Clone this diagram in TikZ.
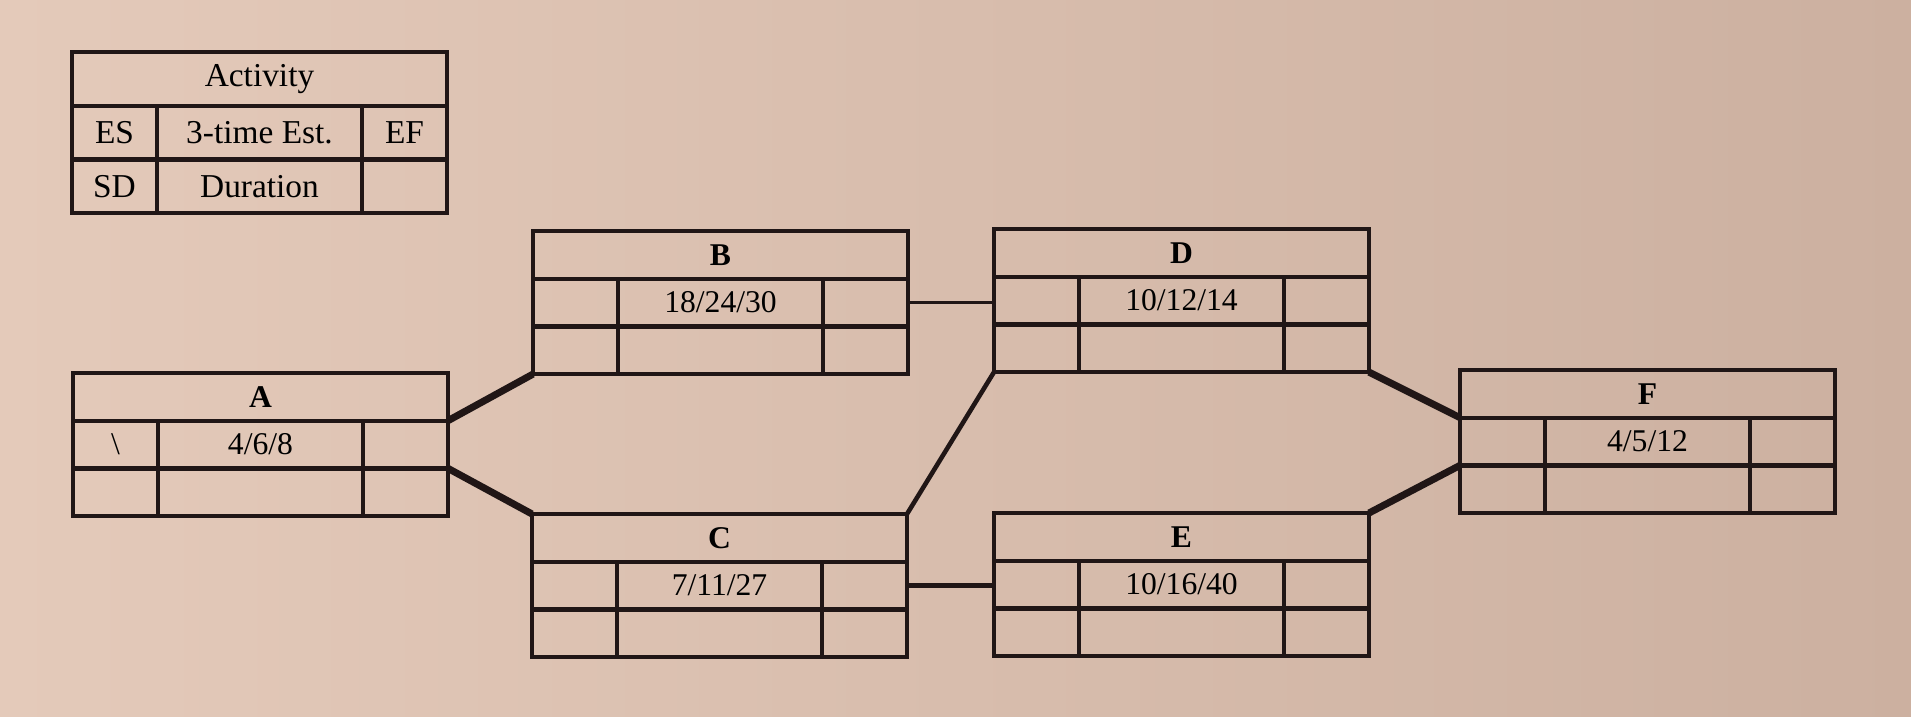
\documentclass[tikz,border=0pt]{standalone}
\usepackage{fontspec}
\setmainfont{Liberation Serif}
\usetikzlibrary{positioning}
\definecolor{ink}{RGB}{32,22,22}
\definecolor{paperl}{RGB}{228,202,186}
\definecolor{paperr}{RGB}{204,176,160}
\tikzset{
    cell/.style={draw=ink, line width=1.2pt, inner sep=0pt, outer sep=0pt, minimum height=4.77mm, font=\fontsize{9}{10}\selectfont}, % one square of a box
    sidecell/.style={cell, minimum width=8.5mm}, % ES, EF, SD columns
    midcell/.style={cell, minimum width=20.5mm}, % estimate and duration column
    headcell/.style={cell, minimum width=37.5mm, font=\fontsize{9}{10}\selectfont\bfseries}, % row with the activity name
    keyrow/.style={minimum height=5.37mm, font=\fontsize{9.5}{11}\selectfont}, % the legend is a bit taller
    heavy/.style={draw=ink, line width=2pt}, % thick connectors
    light/.style={draw=ink, line width=1.1pt}, % thin connectors
}

\begin{document}
\begin{tikzpicture}[x=1mm, y=-1mm]
    \fill[left color=paperl, right color=paperr] (0,0) rectangle (191.1,71.7);
    % legend
    \node[headcell, keyrow, anchor=north west] (key) at (7.2,5.2) {Activity};
    \node[sidecell, keyrow, below right=0pt of key.south west] (key-es) {ES};
    \node[midcell, keyrow, right=0pt of key-es] (key-est) {3-time Est.};
    \node[sidecell, keyrow, right=0pt of key-est] (key-ef) {EF};
    \node[sidecell, keyrow, below=0pt of key-es] (key-sd) {SD};
    \node[midcell, keyrow, right=0pt of key-sd] (key-dur) {Duration};
    \node[sidecell, keyrow, right=0pt of key-dur] (key-x) {};
    % activities
    \foreach \n/\x/\y/\est in {A/7.3/37.3/{4/6/8}, B/53.3/23.1/{18/24/30}, C/53.2/51.4/{7/11/27},
                              D/99.4/22.9/{10/12/14}, E/99.4/51.3/{10/16/40}, F/146/37/{4/5/12}} {
        \node[headcell, anchor=north west] (\n) at (\x,\y) {\n};
        \node[sidecell, below right=0pt of \n.south west] (\n-es) {};
        \node[midcell, right=0pt of \n-es] (\n-est) {\est};
        \node[sidecell, right=0pt of \n-est] (\n-ef) {};
        \node[sidecell, below=0pt of \n-es] (\n-sd) {};
        \node[midcell, right=0pt of \n-sd] (\n-dur) {};
        \node[sidecell, right=0pt of \n-dur] (\n-x) {};
    }
    \node[font=\fontsize{9}{10}\selectfont] (A-mark) at (A-es) {\textbackslash};
    % connectors
    \draw[heavy] (A-ef.north east) -- (B-sd.south west);
    \draw[heavy] (A-x.north east) -- (C.north west);
    \draw[light] (B-ef.east) -- (B-ef.east -| D-es.west);
    \draw[light, line width=1.3pt] (C.north east) -- (D-sd.south west);
    \draw[light, line width=1.4pt] (C-ef.east) -- (C-ef.east -| E-es.west);
    \draw[heavy] (D-x.south east) -- (F-es.north west);
    \draw[heavy] (E.north east) -- (F-sd.north west);
\end{tikzpicture}
\end{document}
